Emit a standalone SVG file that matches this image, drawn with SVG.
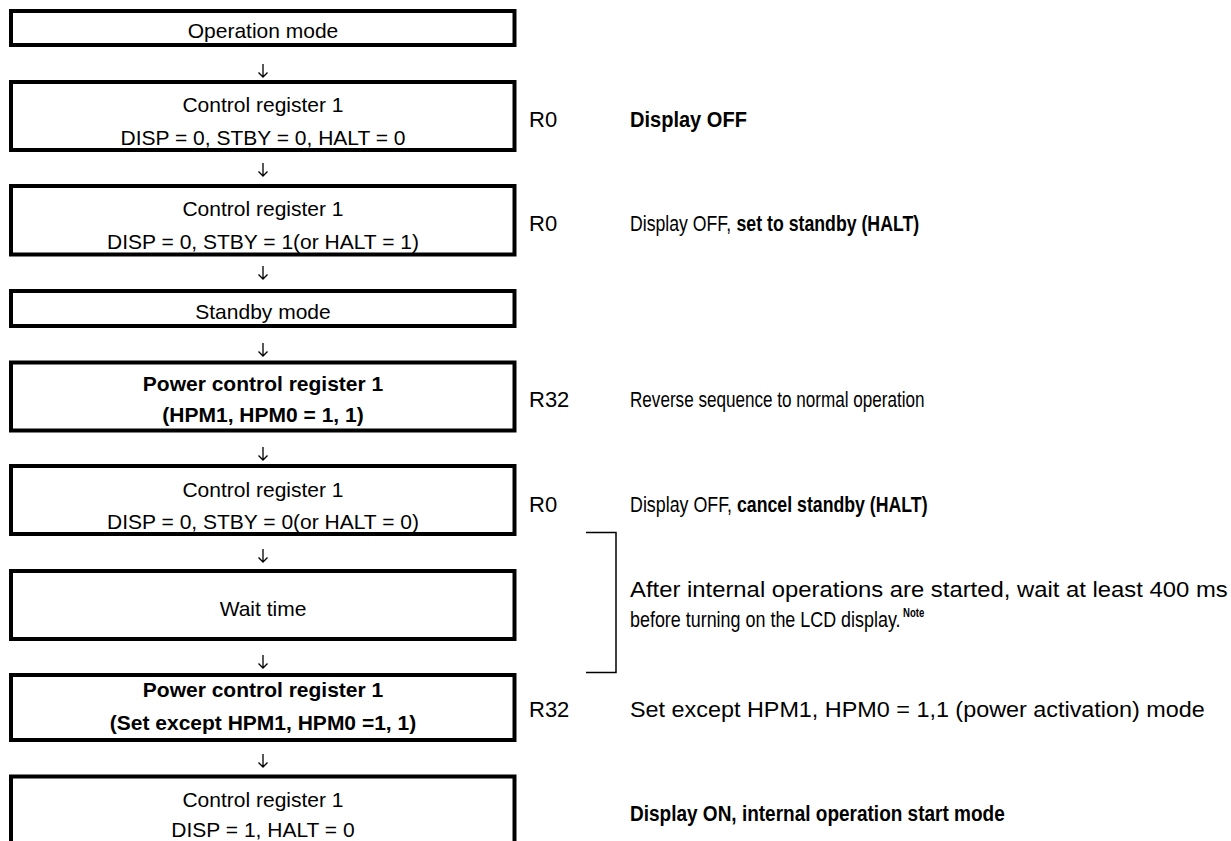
<svg xmlns="http://www.w3.org/2000/svg" width="1231" height="841" viewBox="0 0 1231 841">
<style>
.box{fill:#fff;stroke:#000;stroke-width:4}
.t{font-family:"Liberation Sans",Arial,sans-serif;font-size:21px;fill:#000;text-anchor:middle}
.r{font-family:"Liberation Sans",Arial,sans-serif;font-size:22px;fill:#000}
.b{font-weight:bold}
.sup{font-family:"Liberation Sans",Arial,sans-serif;font-size:12px;font-weight:bold;fill:#000}
.arr{fill:none;stroke:#000;stroke-width:1.3}
.br{fill:none;stroke:#000;stroke-width:1.5}
</style>
<rect width="1231" height="841" fill="#fff"/>
<g id="n1"><rect class="box" x="11" y="11" width="503.5" height="34"/><text class="t" x="263" y="38">Operation mode</text></g>
<g id="n2"><rect class="box" x="11" y="82" width="503.5" height="68"/><text class="t" x="263" y="111.5">Control register 1</text><text class="t" x="263" y="145">DISP = 0, STBY = 0, HALT = 0</text></g>
<g id="n3"><rect class="box" x="11" y="186" width="503.5" height="68.5"/><text class="t" x="263" y="216">Control register 1</text><text class="t" x="263" y="248.5">DISP = 0, STBY = 1(or HALT = 1)</text></g>
<g id="n4"><rect class="box" x="11" y="291" width="503.5" height="35"/><text class="t" x="263" y="318.5">Standby mode</text></g>
<g id="n5"><rect class="box" x="11" y="362.5" width="503.5" height="68"/><text class="t b" x="263" y="391">Power control register 1</text><text class="t b" x="263" y="422">(HPM1, HPM0 = 1, 1)</text></g>
<g id="n6"><rect class="box" x="11" y="466" width="503.5" height="68"/><text class="t" x="263" y="497">Control register 1</text><text class="t" x="263" y="529">DISP = 0, STBY = 0(or HALT = 0)</text></g>
<g id="n7"><rect class="box" x="11" y="571" width="503.5" height="68"/><text class="t" x="263" y="616">Wait time</text></g>
<g id="n8"><rect class="box" x="11" y="675" width="503.5" height="65"/><text class="t b" x="263" y="697">Power control register 1</text><text class="t b" x="263" y="729.5">(Set except HPM1, HPM0 =1, 1)</text></g>
<g id="n9"><rect class="box" x="11" y="776.5" width="503.5" height="90"/><text class="t" x="263" y="806.5">Control register 1</text><text class="t" x="263" y="836.5">DISP = 1, HALT = 0</text></g>
<g id="connectors">
<path class="arr" d="M263,64V77M258.5,72.5L263,77L267.5,72.5"/>
<path class="arr" d="M263,163V176M258.5,171.5L263,176L267.5,171.5"/>
<path class="arr" d="M263,266V279M258.5,274.5L263,279L267.5,274.5"/>
<path class="arr" d="M263,343V356M258.5,351.5L263,356L267.5,351.5"/>
<path class="arr" d="M263,447V460M258.5,455.5L263,460L267.5,455.5"/>
<path class="arr" d="M263,549V562M258.5,557.5L263,562L267.5,557.5"/>
<path class="arr" d="M263,655V668M258.5,663.5L263,668L267.5,663.5"/>
<path class="arr" d="M263,754V767M258.5,762.5L263,767L267.5,762.5"/>
</g>
<g id="notes">
<text class="r" x="529" y="127">R0</text>
<text class="r b" transform="translate(630,127) scale(0.911,1)">Display OFF</text>
<text class="r" x="529" y="231">R0</text>
<text class="r" transform="translate(630,231) scale(0.803,1)">Display OFF,</text>
<text class="r b" transform="translate(736.5,231) scale(0.805,1)">set to standby (HALT)</text>
<text class="r" x="529" y="407">R32</text>
<text class="r" transform="translate(630,407) scale(0.778,1)">Reverse sequence to normal operation</text>
<text class="r" x="529" y="511.5">R0</text>
<text class="r" transform="translate(630,511.5) scale(0.811,1)">Display OFF,</text>
<text class="r b" transform="translate(737,511.5) scale(0.805,1)">cancel standby (HALT)</text>
<path class="br" d="M586,532.5H616V672.5H586"/>
<text class="r" transform="translate(630,597) scale(1.084,1)">After internal operations are started, wait at least 400 ms</text>
<text class="r" transform="translate(630,627) scale(0.815,1)">before turning on the LCD display.</text>
<text class="sup" transform="translate(903,617) scale(0.8,1)">Note</text>
<text class="r" x="529" y="717">R32</text>
<text class="r" transform="translate(630,717) scale(1.063,1)">Set except HPM1, HPM0 = 1,1 (power activation) mode</text>
<text class="r b" transform="translate(630,821) scale(0.864,1)">Display ON, internal operation start mode</text>
</g>
</svg>
